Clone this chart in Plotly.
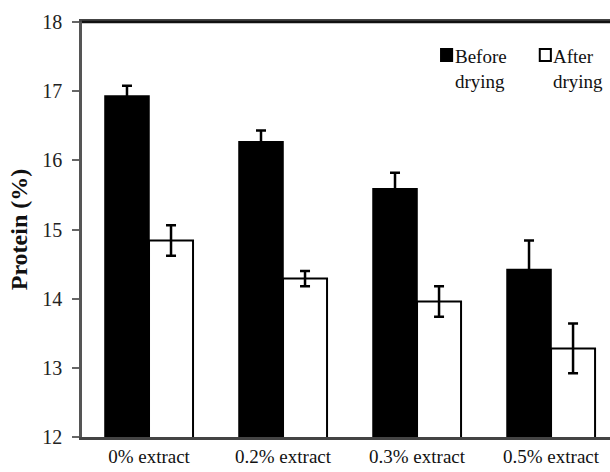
import plotly.graph_objects as go

categories = ["0% extract", "0.2% extract", "0.3% extract", "0.5% extract"]
series_names = ["Before<br>drying", "After<br>drying"]
before_vals = [16.93, 16.27, 15.59, 14.42]
before_err = [0.15, 0.16, 0.23, 0.42]
after_vals = [14.84, 14.29, 13.96, 13.28]
after_err = [0.22, 0.11, 0.22, 0.36]
y_ticks = [12, 13, 14, 15, 16, 17, 18]

FONT = "Liberation Serif, Times New Roman, serif"

fig = go.Figure()
fig.add_trace(go.Bar(
    x=categories, y=before_vals, name="Before drying",
    marker=dict(color="black", line=dict(color="black", width=1.5)),
    error_y=dict(type="data", array=before_err, visible=True, color="black", thickness=2.5, width=5),
))
fig.add_trace(go.Bar(
    x=categories, y=after_vals, name="After drying",
    marker=dict(color="white", line=dict(color="black", width=2)),
    error_y=dict(type="data", array=after_err, visible=True, color="black", thickness=2.5, width=5),
))

fig.update_layout(
    width=610, height=472,
    margin=dict(l=82, r=0, t=22, b=35, autoexpand=False),
    paper_bgcolor="white", plot_bgcolor="white",
    barmode="group", bargap=0.343, bargroupgap=0,
    showlegend=False,
    font=dict(family=FONT, size=19, color="#222"),
    xaxis=dict(
        range=[-0.5, 3.44],
        showline=True, linecolor="#444", linewidth=2.5, mirror=True,
        ticks="", showgrid=False, zeroline=False,
        tickfont=dict(family=FONT, size=19, color="#111"),
    ),
    yaxis=dict(
        range=[12, 18], tickvals=y_ticks,
        showline=True, linecolor="#555", linewidth=2.5,
        ticks="outside", ticklen=7, tickwidth=1.5, tickcolor="#666",
        showgrid=False, zeroline=False,
        tickfont=dict(family=FONT, size=20, color="#222"),
        ticklabelstandoff=6,
        title=dict(text="<b>Protein (%)</b>", font=dict(family=FONT, size=24, color="#111"), standoff=8),
    ),
)

# top frame line (darker than the bottom axis in the reference)
fig.add_shape(type="line", xref="paper", yref="paper", x0=0, x1=1, y0=1, y1=1,
              line=dict(color="#111", width=2.5))

# manual legend
legend_items = [
    (series_names[0], "black", 0.680),
    (series_names[1], "white", 0.867),
]
for text, col, xpos in legend_items:
    fig.add_shape(type="rect", xref="paper", yref="paper",
                  x0=xpos, x1=xpos + 0.021, y0=0.906, y1=0.935,
                  fillcolor=col, line=dict(color="black", width=2))
    fig.add_annotation(text=text, xref="paper", yref="paper",
                       x=xpos + 0.022, y=0.948, xanchor="left", yanchor="top",
                       align="left", showarrow=False,
                       font=dict(family=FONT, size=19, color="#111"))

fig.write_html("out.html", config={"displayModeBar": False},
               post_script="document.body.style.margin='0';document.body.style.overflow='hidden';")
